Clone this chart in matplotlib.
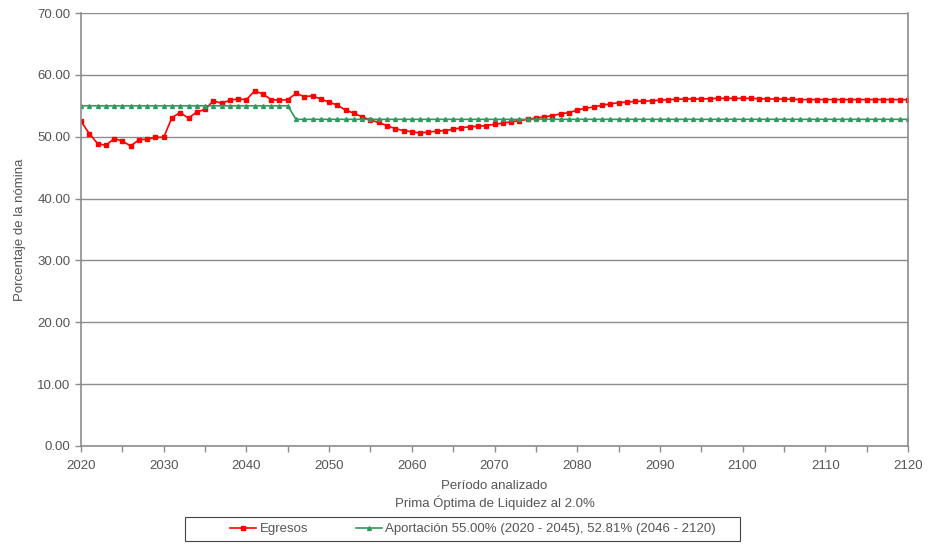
import matplotlib
matplotlib.use("Agg")
import matplotlib.pyplot as plt
from matplotlib.patches import Rectangle
import numpy as np

plt.rcParams['font.family'] = ['Liberation Sans', 'DejaVu Sans']

# datos
anios = list(range(2020, 2121))

egresos = [52.5, 50.5, 48.9, 48.6, 49.7, 49.3, 48.5, 49.5, 49.6, 49.9,
           49.9, 53.1, 53.9, 53.0, 54.0, 54.4, 55.8, 55.4, 55.9, 56.1,
           56.0, 57.4, 56.9, 56.0, 55.9, 56.0, 57.0, 56.5, 56.6, 56.1,
           55.6, 55.1, 54.3, 53.8, 53.2, 52.7, 52.3, 51.8, 51.3, 51.0,
           50.8, 50.6, 50.75, 50.9, 51.0, 51.2, 51.45, 51.6, 51.7, 51.8,
           52.0, 52.2, 52.4, 52.6, 52.8, 53.0, 53.2, 53.4, 53.7, 53.9,
           54.3, 54.6, 54.8, 55.1, 55.3, 55.5, 55.6, 55.7, 55.75, 55.8,
           55.9, 56.0, 56.05, 56.1, 56.1, 56.1, 56.15, 56.2, 56.2, 56.2,
           56.2, 56.2, 56.15, 56.1, 56.1, 56.1, 56.05, 56.0, 56.0, 56.0,
           56.0, 56.0, 56.0, 56.0, 56.0, 56.0, 56.0, 56.0, 56.0, 56.0,
           56.0]

aportacion = [55.00] * 26 + [52.81] * 75

etiqueta_egresos = "Egresos"
etiqueta_aport = "Aportación 55.00% (2020 - 2045), 52.81% (2046 - 2120)"
xlabel = "Período analizado\nPrima Óptima de Liquidez al 2.0%"
ylabel = "Porcentaje de la nómina"

fig = plt.figure(figsize=(9.34, 5.44), dpi=100)
ax = fig.add_axes([81/934, 1-446/544, 827/934, 433/544])

gris = "#8c8c8c"
texto = "#555555"
ax.plot(anios, egresos, color="#ff0000", lw=1.2, marker="s", ms=2.8,
        label=etiqueta_egresos)
ax.plot(anios, aportacion, color="#2e9a5e", lw=1.2, marker="^", ms=2.8,
        label=etiqueta_aport)

ax.set_xlim(2020, 2120)
ax.set_ylim(0, 70)
ax.set_xticks(range(2020, 2121, 10))
ax.set_xticks(range(2020, 2121, 5), minor=True)
ax.set_yticks(np.arange(0, 71, 10))
ax.set_yticklabels([f"{v:.2f}" for v in np.arange(0, 71, 10)])
ax.yaxis.grid(True, color=gris, lw=1)
ax.set_axisbelow(True)
for lado in ["left", "bottom", "right"]:
    ax.spines[lado].set_color(gris)
    ax.spines[lado].set_linewidth(1.2)
ax.spines["top"].set_visible(False)
ax.tick_params(axis="both", colors=gris, labelcolor=texto, labelsize=9.5,
               direction="out", length=4, width=1)
ax.tick_params(axis="x", pad=6)
ax.tick_params(axis="x", which="minor", colors=gris, length=4, width=1)

ax.set_xlabel(xlabel, fontsize=9.5, color=texto, labelpad=6, linespacing=1.3)
ax.set_ylabel(ylabel, fontsize=9.5, color=texto, labelpad=8)

# caja de la leyenda como en el original (mas margen a la izquierda)
fig.patches.append(Rectangle((185/934, 1-541/544), 555/934, 24/544,
                             transform=fig.transFigure, fill=False,
                             edgecolor="#444444", lw=0.8))
leg = fig.legend(loc="center left", bbox_to_anchor=(230/934, 1-529/544), ncol=2,
                 fontsize=9.5, frameon=False, handlelength=2.0,
                 columnspacing=3.6, borderpad=0, handletextpad=0.25,
                 borderaxespad=0)
for t in leg.get_texts():
    t.set_color(texto)

fig.savefig("out.png", dpi=100)
